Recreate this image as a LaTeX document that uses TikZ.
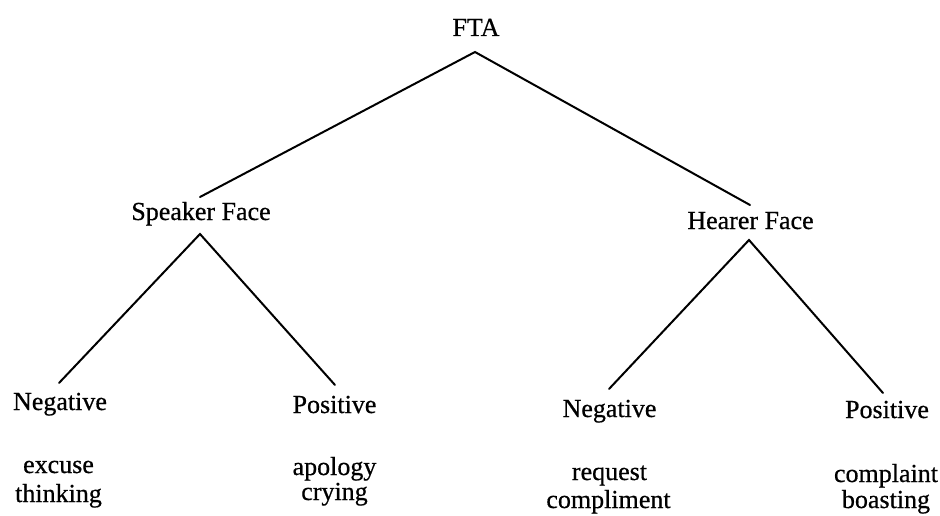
\documentclass[tikz,border=0pt]{standalone}
\usepackage{fontspec}
\setmainfont{Liberation Serif}[FakeBold=0.6]
\begin{document}
\begin{tikzpicture}[x=1pt,y=-1pt,
  lbl/.style={inner sep=0pt,anchor=base,font=\fontsize{26}{30}\selectfont},
  edge/.style={line width=2pt,line cap=round}]
\useasboundingbox (0,0) rectangle (940,516);
% labels
\node[lbl] (fta) at (476,36) {FTA};
\node[lbl] (sf) at (201,220) {Speaker Face};
\node[lbl] (hf) at (750.5,229) {Hearer Face};
\node[lbl] (sneg) at (60,410) {Negative};
\node[lbl] (spos) at (334.5,413) {Positive};
\node[lbl] (hneg) at (609.5,417) {Negative};
\node[lbl] (hpos) at (887,418) {Positive};
\node[lbl] (ex1) at (58.5,473) {excuse};
\node[lbl] (ex2) at (58.5,502) {thinking};
\node[lbl] (ap1) at (334.5,475) {apology};
\node[lbl] (ap2) at (334.5,500) {crying};
\node[lbl] (rq1) at (609.5,480) {request};
\node[lbl] (rq2) at (608.5,508) {compliment};
\node[lbl] (cp1) at (886,482) {complaint};
\node[lbl] (cp2) at (886,508) {boasting};
% connector end points
\coordinate (fta-b) at (475,52);
\coordinate (sf-t) at (200,197);
\coordinate (hf-t) at (750,205);
\coordinate (sf-b) at (200,234);
\coordinate (hf-b) at (749,240);
\coordinate (sneg-t) at (59,383);
\coordinate (spos-t) at (335,385);
\coordinate (hneg-t) at (609,389);
\coordinate (hpos-t) at (883,393);
% connectors
\draw[edge] (sf-t) -- (fta-b) -- (hf-t);
\draw[edge] (sneg-t) -- (sf-b) -- (spos-t);
\draw[edge] (hneg-t) -- (hf-b) -- (hpos-t);
\end{tikzpicture}
\end{document}
